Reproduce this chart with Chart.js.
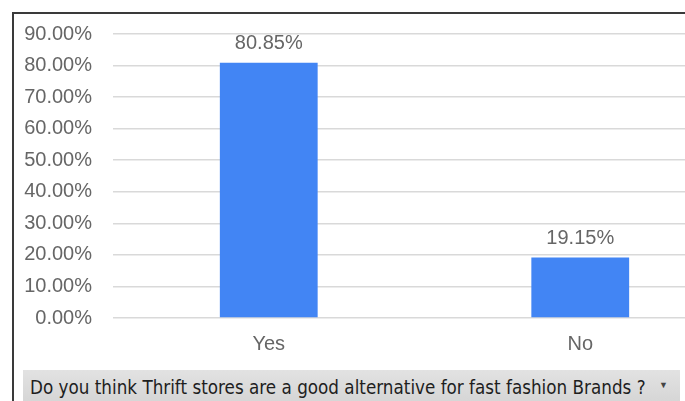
<!DOCTYPE html>
<html>
<head>
<meta charset="utf-8">
<script src="https://cdn.jsdelivr.net/npm/chart.js@4.4.0/dist/chart.umd.min.js"></script>
<style>
	html, body {
		margin: 0;
		padding: 0;
		width: 685px;
		height: 401px;
		overflow: hidden;
		background: #fff;
	}
	#frame {
		position: absolute;
		left: 12px;
		top: 12px;
		width: 700px;
		height: 400px;
		border-left: 2px solid #3a3a3a;
		border-top: 2px solid #3a3a3a;
	}
	#wrap {
		position: absolute;
		left: 13px;
		top: 14px;
		width: 723px;
		height: 357px;
	}
	#field {
		position: absolute;
		left: 23px;
		top: 370px;
		width: 657px;
		height: 31px;
		background: linear-gradient(#e2e2e2, #d6d6d6);
		color: #1e1e1e;
		overflow: hidden;
	}
	#field .caption {
		position: absolute;
		left: 7px;
		top: 3px;
		display: inline-block;
		font-family: "DejaVu Sans", sans-serif;
		font-size: 20px;
		line-height: 28px;
		white-space: nowrap;
		transform: scaleX(0.84);
		transform-origin: left center;
	}
	#field .arrow {
		position: absolute;
		right: 12px;
		top: 10px;
		font-size: 9px;
		color: #444;
	}
</style>
</head>
<body>
<div id="frame"></div>
<div id="wrap"><canvas id="chart"></canvas></div>
<div id="field"><span class="caption">Do you think Thrift stores are a good alternative for fast fashion Brands ?</span><span class="arrow">▼</span></div>
<script>
const CHART = document.getElementById("chart");

const categories = ["Yes", "No"];
const shares = [80.85, 19.15];
const yTicks = [0, 10, 20, 30, 40, 50, 60, 70, 80, 90];

const BAR_BLUE = "#4285f4";
const TEXT_GRAY = "#666666";
const FONT = "'Liberation Sans', Arial, sans-serif";

// percentage labels above each bar
const valueLabels = {
	id: "valueLabels",
	afterDatasetsDraw(chart) {
		const ctx = chart.ctx;
		const meta = chart.getDatasetMeta(0);
		ctx.save();
		ctx.font = "20px " + FONT;
		ctx.fillStyle = TEXT_GRAY;
		ctx.textAlign = "center";
		ctx.textBaseline = "alphabetic";
		meta.data.forEach((bar, i) => {
			ctx.fillText(shares[i].toFixed(2) + "%", bar.x, bar.y - 14);
		});
		ctx.restore();
	},
};

new Chart(CHART.getContext("2d"), {
	type: "bar",
	data: {
		labels: categories,
		datasets: [
			{
				data: shares,
				backgroundColor: BAR_BLUE,
				borderWidth: 0,
				barPercentage: 0.314,
				categoryPercentage: 1,
			},
		],
	},
	options: {
		responsive: true,
		maintainAspectRatio: false,
		animation: false,
		layout: { padding: { top: 20, right: 0, bottom: 0, left: 0 } },
		plugins: {
			legend: { display: false },
			tooltip: { enabled: false },
		},
		scales: {
			x: {
				grid: { display: false, drawTicks: false },
				border: { display: false },
				ticks: {
					color: TEXT_GRAY,
					font: { family: FONT, size: 20 },
					padding: 14,
				},
				afterFit: (scale) => {
					scale.height = 53;
				},
			},
			y: {
				min: 0,
				max: 90,
				afterBuildTicks: (scale) => {
					scale.ticks = yTicks.map((v) => ({ value: v }));
				},
				grid: { color: "#d9d9d9", lineWidth: 1.5, drawTicks: false },
				border: { display: false },
				ticks: {
					color: TEXT_GRAY,
					font: { family: FONT, size: 20 },
					padding: 21,
					callback: (v) => v.toFixed(2) + "%",
				},
				afterFit: (scale) => {
					// the gap to the labels is horizontal only
					scale.width = 100;
					scale.paddingTop = 0;
					scale.paddingBottom = 0;
				},
			},
		},
	},
	plugins: [valueLabels],
});
</script>
</body>
</html>
